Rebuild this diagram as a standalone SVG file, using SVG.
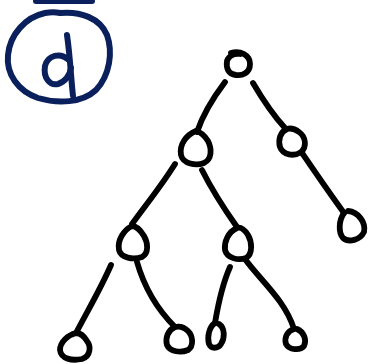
<svg xmlns="http://www.w3.org/2000/svg" width="371" height="364" viewBox="0 0 371 364">
<style>
.ink{fill:none;stroke:#000;stroke-width:5.8;stroke-linecap:round;stroke-linejoin:round}
.navy{fill:none;stroke:#0a205c;stroke-width:6;stroke-linecap:round;stroke-linejoin:round}
</style>
<rect width="371" height="364" fill="#fff"/>
<g id="label">
<path class="navy" d="M36,1 L92,1"/>
<path class="navy" d="M60,13 C80,11 100,18 107,35 C113,52 110,75 96,90 C82,103 58,104 38,98 C18,91 6,74 8,55 C10,34 26,17 45,13 C50,12 56,12 60,13"/>
<path class="navy" d="M67,35 C70,55 71,78 73,96"/>
<path class="navy" d="M69,60 C60,52 48,55 45,66 C43,78 50,86 58,84 C65,82 70,75 71,68"/>
</g>
<g id="connectors">
<path class="ink" d="M225,82 C213,98 203,114 197,132"/>
<path class="ink" d="M253,83 C263,100 273,115 285,128"/>
<path class="ink" d="M302,153 C315,172 330,194 344,213"/>
<path class="ink" d="M175,164 C162,185 148,202 132,224"/>
<path class="ink" d="M202,170 C212,190 225,210 237,227"/>
<path class="ink" d="M111,265 C100,290 88,310 76,333"/>
<path class="ink" d="M137,262 C145,290 158,310 175,327"/>
<path class="ink" d="M230,267 C222,285 218,305 215,323"/>
<path class="ink" d="M245,259 C260,280 285,300 294,329"/>
</g>
<g id="n-root"><path class="ink" d="M231,53 C240,50 250,55 250,64 C250,73 242,76 236,75 C228,74 226,68 227,61 C228,57 233,53 240,54"/></g>
<g id="n-l"><path class="ink" d="M196,131 C186,135 179,145 181,155 C183,164 196,166 204,163 C212,159 212,149 208,141 C205,136 200,132 196,131"/></g>
<g id="n-r"><path class="ink" d="M287,129 C280,132 278,140 280,147 C283,155 294,157 301,152 C307,147 306,137 299,132 C295,129 290,128 287,129"/></g>
<g id="n-rr"><path class="ink" d="M344,213 C339,220 338,232 343,238 C349,243 360,240 364,232 C366,222 358,212 348,211"/></g>
<g id="n-ll"><path class="ink" d="M132,226 C124,230 117,240 119,250 C121,258 133,260 142,257 C149,253 148,243 144,236 C141,231 136,226 132,226"/></g>
<g id="n-lr"><path class="ink" d="M237,228 C228,232 224,242 225,250 C227,258 238,261 246,258 C253,254 252,242 248,235 C244,229 240,227 237,228"/></g>
<g id="n-lll"><path class="ink" d="M76,333 C68,335 60,342 60,350 C61,359 72,361 82,359 C91,356 91,346 87,341 C84,336 80,333 76,333"/></g>
<g id="n-llr"><path class="ink" d="M175,327 C168,330 165,338 167,345 C170,352 181,353 188,350 C194,346 193,336 188,331 C184,327 179,326 175,327"/></g>
<g id="n-lrl"><path class="ink" d="M215,323 C209,327 207,337 209,344 C211,349 218,349 221,344 C225,338 225,328 219,324"/></g>
<g id="n-lrr"><path class="ink" d="M294,329 C287,331 284,338 286,344 C289,350 300,351 304,346 C307,340 304,332 297,329"/></g>
</svg>
